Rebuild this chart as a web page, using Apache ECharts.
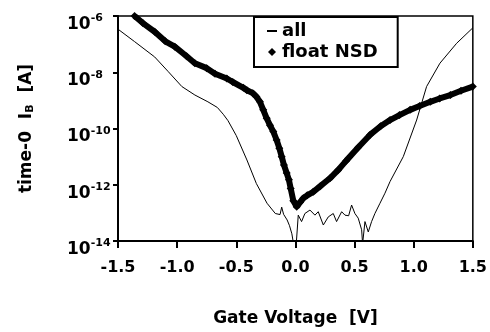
<!DOCTYPE html>
<html>
<head>
<meta charset="utf-8">
<script src="https://cdn.jsdelivr.net/npm/echarts@6/dist/echarts.min.js"></script>
<style>
  html, body { margin: 0; padding: 0; background: #fff; }
  #main { width: 490px; height: 332px; }
</style>
</head>
<body>
<div id="main"></div>
<script>
// Gate voltage [V] and time-0 I_B [A]
const allV = [-1.50, -1.36, -1.19, -1.075, -0.96, -0.85, -0.74, -0.66, -0.61, -0.57, -0.50, -0.41, -0.33, -0.24, -0.17, -0.13, -0.116, -0.10, -0.07, -0.05, -0.03, -0.02, 0.0,
  0.024, 0.052, 0.080, 0.123, 0.165, 0.193, 0.236, 0.278, 0.320, 0.348, 0.391, 0.419, 0.45, 0.475, 0.503, 0.531, 0.560, 0.568, 0.588, 0.616, 0.644, 0.672, 0.715, 0.757, 0.80, 0.912, 1.025, 1.109, 1.222, 1.363, 1.50];
const allI = [3.4e-7, 1.23e-7, 3.5e-8, 1.05e-8, 3.1e-9, 1.55e-9, 8.9e-10, 5.6e-10, 3.2e-10, 1.9e-10, 5.6e-11, 7.6e-12, 1.1e-12, 2.2e-13, 9.5e-14, 8.7e-14, 1.6e-13, 8.9e-14, 5.6e-14, 3.5e-14, 1.8e-14, 1.0e-14, 3e-15,
  8.3e-14, 4.9e-14, 9.5e-14, 1.26e-13, 8.3e-14, 1.1e-13, 3.7e-14, 7.2e-14, 9.5e-14, 4.9e-14, 1.1e-13, 8.3e-14, 7.9e-14, 1.9e-13, 9.5e-14, 6.5e-14, 2.5e-14, 8e-15, 4.9e-14, 2.1e-14, 4.9e-14, 9.5e-14, 2.2e-13, 5.0e-13, 1.3e-12, 1.0e-11, 2.0e-10, 3.1e-9, 2.1e-8, 1.07e-7, 3.8e-7];

const nsdV = [-1.36, -1.29, -1.19, -1.10, -1.02, -0.92, -0.85, -0.75, -0.68, -0.58, -0.53, -0.44, -0.41, -0.36, -0.33, -0.30,
  -0.272, -0.243, -0.215, -0.187, -0.159, -0.136, -0.116, -0.097, -0.074, -0.055, -0.040, -0.018, 0.011,
  0.04, 0.066, 0.10, 0.151, 0.21, 0.292, 0.36, 0.43, 0.53, 0.63, 0.72, 0.80, 0.88, 0.97, 1.05, 1.14, 1.22, 1.31, 1.40, 1.50];
const nsdI = [1.0e-6, 5.6e-7, 2.75e-7, 1.26e-7, 8.1e-8, 3.7e-8, 2.1e-8, 1.4e-8, 8.9e-9, 6.0e-9, 4.5e-9, 2.8e-9, 2.3e-9, 1.8e-9, 1.35e-9, 8.9e-10,
  4.6e-10, 2.3e-10, 1.3e-10, 7.8e-11, 3.9e-11, 2.0e-11, 1.0e-11, 5.0e-12, 2.6e-12, 1.5e-12, 7.4e-13, 2.7e-13, 1.66e-13,
  2.4e-13, 3.3e-13, 4.2e-13, 5.6e-13, 8.9e-13, 1.7e-12, 3.3e-12, 7.2e-12, 2.1e-11, 5.9e-11, 1.2e-10, 2.0e-10, 3.0e-10, 4.6e-10, 6.3e-10, 8.9e-10, 1.17e-9, 1.55e-9, 2.2e-9, 3.1e-9];

const font = 'DejaVu Sans';
const chart = echarts.init(document.getElementById('main'));

const option = {
  backgroundColor: '#fff',
  animation: false,
  grid: {
    left: 118, right: 17, top: 16, bottom: 91,
    show: true, borderColor: '#000', borderWidth: 1.5, backgroundColor: 'transparent'
  },
  legend: {
    orient: 'vertical',
    left: 254, top: 17,
    borderColor: '#000', borderWidth: 2, borderRadius: 0,
    padding: [5, 20, 6, 13],
    itemGap: 3, itemWidth: 10, itemHeight: 8,
    textStyle: { fontFamily: font, fontWeight: 'bold', fontSize: 18, color: '#000' },
    data: [
      { name: 'all', icon: 'path://M0,0 L10,0 L10,2 L0,2 Z' },
      { name: 'float NSD', icon: 'path://M5,0 L10,5 L5,10 L0,5 Z' }
    ]
  },
  xAxis: {
    type: 'value', min: -1.5, max: 1.5, interval: 0.5,
    name: 'Gate Voltage  [V]', nameLocation: 'middle', nameGap: 69,
    nameTextStyle: { fontFamily: font, fontWeight: 'bold', fontSize: 17, color: '#000' },
    axisLine: { onZero: false, lineStyle: { color: '#000', width: 2 } },
    axisTick: { inside: false, length: 7, lineStyle: { color: '#000', width: 2 } },
    axisLabel: {
      margin: 19, color: '#000', fontFamily: font, fontWeight: 'bold', fontSize: 16,
      formatter: v => v.toFixed(1)
    },
    splitLine: { show: false }
  },
  yAxis: {
    type: 'log', logBase: 10, min: 1e-14, max: 1e-6, interval: 2,
    name: '{t|time-0  I}{sub|B}{t|  [A]}', nameLocation: 'middle', nameRotate: 90, nameGap: 82,
    nameTextStyle: {
      rich: {
        t: { fontFamily: font, fontWeight: 'bold', fontSize: 17, color: '#000' },
        sub: { fontFamily: font, fontWeight: 'bold', fontSize: 11, color: '#000', verticalAlign: 'bottom', padding: [8, 0, 0, 0] }
      }
    },
    axisLine: { show: true, onZero: false, lineStyle: { color: '#000', width: 2 } },
    axisTick: { inside: false, length: 5, lineStyle: { color: '#000', width: 2 } },
    minorTick: { show: false },
    axisLabel: {
      align: 'left', margin: 51, padding: [14, 0, 0, 0],
      formatter: v => '{b|10}{s|' + Math.round(Math.log10(v)) + '}',
      rich: {
        b: { fontFamily: font, fontWeight: 'bold', fontSize: 17, color: '#000', lineHeight: 20, verticalAlign: 'bottom' },
        s: { fontFamily: font, fontWeight: 'bold', fontSize: 11, color: '#000', lineHeight: 20, verticalAlign: 'top' }
      }
    },
    splitLine: { show: false }
  },
  series: [
    {
      name: 'all', type: 'line', color: '#000',
      symbol: 'none', clip: true,
      lineStyle: { width: 1, color: '#000' },
      data: allV.map((v, i) => [v, allI[i]])
    },
    {
      name: 'float NSD', type: 'line', color: '#000',
      symbol: 'diamond', symbolSize: 8, showSymbol: true, clip: true,
      lineStyle: { width: 6, color: '#000' },
      itemStyle: { color: '#000' },
      data: nsdV.map((v, i) => [v, nsdI[i]])
    }
  ]
};

chart.setOption(option);
</script>
</body>
</html>
